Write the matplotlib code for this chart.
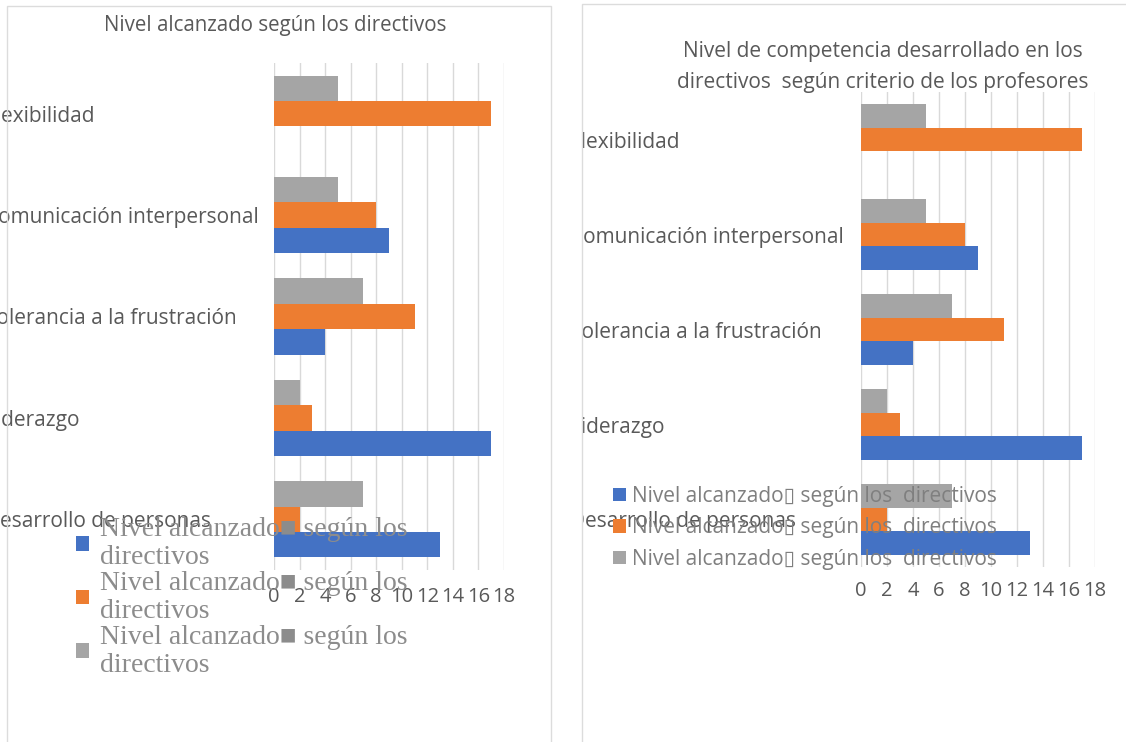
import matplotlib
matplotlib.use("Agg")
import matplotlib.pyplot as plt
import matplotlib.patches as mpatches
from matplotlib.transforms import Bbox, IdentityTransform, TransformedBbox
import numpy as np

# data (same three series in both charts)
categorias = ["Desarrollo de personas", "Liderazgo", "Tolerancia a la frustración",
              "Comunicación interpersonal", "Flexibilidad"]
serie_azul = [13, 17, 4, 9, 0]
serie_naranja = [2, 3, 11, 8, 17]
serie_gris = [7, 2, 7, 5, 5]
ticks_x = [0, 2, 4, 6, 8, 10, 12, 14, 16, 18]

titulo_izq = "Nivel alcanzado según los directivos"
titulo_der = "Nivel de competencia desarrollado en los\ndirectivos  según criterio de los profesores"

AZUL = "#4472C4"
NARANJA = "#ED7D31"
GRIS = "#A5A5A5"
TXT = "#595959"
SANS = ["Open Sans", "DejaVu Sans"]

W, H = 1126, 742
fig = plt.figure(figsize=(W / 100, H / 100), dpi=100)
fig.patch.set_facecolor("white")


def px(x0, y0, x1, y1):
    # pixel box (top-left origin) -> figure fraction rect
    return [x0 / W, 1 - y1 / H, (x1 - x0) / W, (y1 - y0) / H]


# panel borders
fig.add_artist(mpatches.Rectangle((7 / W, -0.01), (551 - 7) / W, 1 - 6 / H + 0.01,
                                  transform=fig.transFigure, fill=False,
                                  edgecolor="#dcdcdc", lw=1))
fig.add_artist(mpatches.Rectangle((582 / W, -0.01), 1, 1 - 4 / H + 0.01,
                                  transform=fig.transFigure, fill=False,
                                  edgecolor="#dcdcdc", lw=1))


def dibujar(ax, ax_x0, label_x0, clip_x0, xpad):
    y = np.arange(len(categorias))
    h = 0.25
    b1 = ax.barh(y - h, serie_azul, height=h, color=AZUL, zorder=3)
    b2 = ax.barh(y, serie_naranja, height=h, color=NARANJA, zorder=3)
    b3 = ax.barh(y + h, serie_gris, height=h, color=GRIS, zorder=3)
    ax.set_xlim(0, 18)
    ax.set_ylim(-0.5, len(categorias) - 0.5)
    ax.set_xticks(ticks_x)
    ax.set_yticks(y)
    # category labels are left aligned in a block that starts left of the panel
    ax.set_yticklabels(categorias, fontsize=15, color=TXT, family=SANS, ha="left")
    for t in ax.get_xticklabels():
        t.set_fontsize(14.5)
        t.set_color(TXT)
        t.set_family(SANS)
    ax.tick_params(axis="both", length=0)
    ax.tick_params(axis="y", pad=(ax_x0 - label_x0) * 0.72)
    ax.tick_params(axis="x", pad=xpad)
    ax.grid(axis="x", color="#d9d9d9", lw=1, zorder=0)
    ax.set_axisbelow(True)
    for s in ax.spines.values():
        s.set_visible(False)
    if clip_x0 is not None:
        caja = TransformedBbox(Bbox.from_extents(clip_x0, 0, W, H), IdentityTransform())
        for t in ax.get_yticklabels():
            t.set_clip_box(caja)
            t.set_clip_on(True)
    return b1, b2, b3


# left chart
ax1 = fig.add_axes(px(274, 63, 504, 570))
h1 = dibujar(ax1, 274, -15, None, 12)
fig.text(275 / W, 1 - 25 / H, titulo_izq, ha="center", va="center", fontsize=14.8,
         color=TXT, family=SANS)

etq_izq = ["Nivel alcanzado\u25a0 según los\ndirectivos"] * 3
leg1 = fig.legend(h1, etq_izq, loc="upper left", bbox_to_anchor=(76 / W, 1 - 517 / H),
                  frameon=False, prop={"family": ["Liberation Serif", "DejaVu Serif"], "size": 20},
                  handlelength=0.45, handleheight=0.45, handletextpad=0.4, labelspacing=0.02,
                  borderpad=0, borderaxespad=0)
for t in leg1.get_texts():
    t.set_color("#8c8c8c")
    t.set_linespacing(1.17)

# right chart
ax2 = fig.add_axes(px(861, 92, 1095, 567))
h2 = dibujar(ax2, 861, 570, 583, 10)
fig.text(883 / W, 1 - 67 / H, titulo_der, ha="center", va="center", fontsize=15,
         color=TXT, linespacing=1.6, family=SANS)

etq_der = ["Nivel alcanzado\u25af según los  directivos"] * 3
leg2 = fig.legend(h2, etq_der, loc="upper left", bbox_to_anchor=(613 / W, 1 - 486 / H),
                  frameon=False, prop={"family": SANS, "size": 15},
                  handlelength=0.6, handleheight=0.6, handletextpad=0.3, labelspacing=0.5,
                  borderpad=0, borderaxespad=0)
for t in leg2.get_texts():
    t.set_color("#7f7f7f")

fig.savefig("out.png", dpi=100)
